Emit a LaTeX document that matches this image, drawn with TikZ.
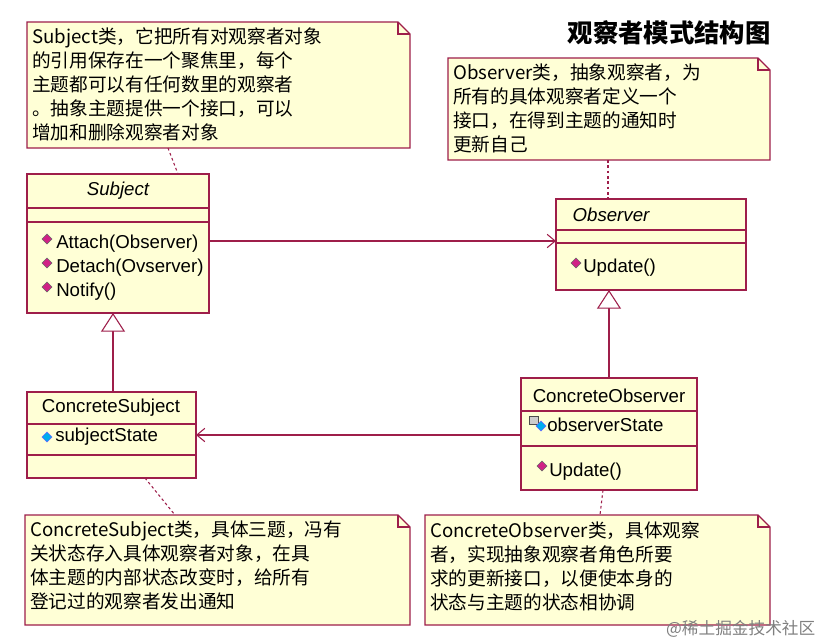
\documentclass[tikz,border=0pt]{standalone}
\usepackage{fontspec}
\setmainfont{Liberation Sans}
\newfontfamily\cjk{Noto Sans CJK SC}
\usetikzlibrary{arrows.meta}
\definecolor{bd}{HTML}{9E1E4A}
\definecolor{fl}{HTML}{FFFFD6}
\begin{document}
\begin{tikzpicture}[x=0.75pt,y=-0.75pt,
  box/.style={draw=bd,fill=fl,line width=0.8pt},
  ln/.style={draw=bd,line width=0.8pt},
  dot/.style={draw=bd,line width=0.8pt,dash pattern=on 2pt off 2pt},
  lab/.style={font=\fontsize{14}{17}\selectfont},
  ilab/.style={font=\itshape\fontsize{14}{17}\selectfont},
  txt/.style={anchor=west,inner sep=0pt,lab},
  ntxt/.style={anchor=north west,inner sep=0pt,align=left,font=\cjk\fontsize{14}{18}\selectfont},
  opm/.style={fill=magenta!85!black,draw=black!60,line width=0.3pt},
  attr/.style={fill=cyan,draw=blue!60,line width=0.3pt}]
\useasboundingbox (0,0) rectangle (833,643);
\fill[white] (0,0) rectangle (833,643);
\newcommand\notebox[4]{\draw[box] (#1,#2) -- (#3-12,#2) -- (#3,#2+12) -- (#3,#4) -- (#1,#4) -- cycle;
  \draw[ln] (#3-12,#2) -- (#3-12,#2+12) -- (#3,#2+12);}
\newcommand\dia[3]{\filldraw[#3] (#1,#2) ++(0,-5) -- ++(5,5) -- ++(-5,5) -- ++(-5,-5) -- cycle;}
% notes
\notebox{27}{22}{410}{148}
\node[ntxt] (n1) at (32,27) {Subject类，它把所有对观察者对象\\的引用保存在一个聚焦里，每个\\主题都可以有任何数里的观察者\\。抽象主题提供一个接口，可以\\增加和删除观察者对象};
\node[font=\cjk\bfseries\fontsize{19}{22}\selectfont] (title) at (669,33) {观察者模式结构图};
\notebox{448}{58}{770}{160}
\node[ntxt] (n2) at (453,63) {Observer类，抽象观察者，为\\所有的具体观察者定义一个\\接口，在得到主题的通知时\\更新自己};
\notebox{25}{515}{410}{625}
\node[ntxt] (n3) at (30,521) {ConcreteSubject类，具体三题，冯有\\关状态存入具体观察者对象，在具\\体主题的内部状态改变时，给所有\\登记过的观察者发出通知};
\notebox{425}{515}{770}{625}
\node[ntxt] (n4) at (430,521) {ConcreteObserver类，具体观察\\者，实现抽象观察者角色所要\\求的更新接口，以便使本身的\\状态与主题的状态相协调};
% Subject
\draw[box] (27,174) rectangle (209,313);
\draw[ln] (27,208) -- (209,208) (27,222) -- (209,222);
\node[ilab] (subj) at (118,191) {Subject};
\dia{47}{239}{opm}\node[txt] (a1) at (56,244) {Attach(Observer)};
\dia{47}{263}{opm}\node[txt] (a2) at (56,268) {Detach(Ovserver)};
\dia{47}{287}{opm}\node[txt] (a3) at (56,292) {Notify()};
% Observer
\draw[box] (556,199) rectangle (746,290);
\draw[ln] (556,230) -- (746,230) (556,243) -- (746,243);
\node[ilab] (obs) at (611,215) {Observer};
\dia{576}{263}{opm}\node[txt] (u1) at (583,268) {Update()};
% ConcreteSubject
\draw[box] (27,392) rectangle (196,478);
\draw[ln] (27,424) -- (196,424) (27,455) -- (196,455);
\node[lab] (cs) at (111,408) {ConcreteSubject};
\dia{47}{437}{attr}\node[txt] (s1) at (55,437) {subjectState};
% ConcreteObserver
\draw[box] (521,378) rectangle (697,490);
\draw[ln] (521,411) -- (697,411) (521,446) -- (697,446);
\node[lab] (co) at (609,396) {ConcreteObserver};
\draw[fill=gray!40,draw=black!70,line width=0.4pt] (529,416) rectangle (538,424);
\dia{541}{426}{attr}\node[txt] (o1) at (547,425) {observerState};
\dia{542}{466}{opm}\node[txt] (u2) at (549,472) {Update()};
% connectors
\coordinate (p1) at (209,241); \coordinate (p2) at (556,241);
\draw[ln,-{Straight Barb[length=6pt,width=10pt]}] (p1) -- (p2);
\coordinate (q1) at (521,435); \coordinate (q2) at (196,435);
\draw[ln,-{Straight Barb[length=6pt,width=10pt]}] (q1) -- (q2);
\coordinate (r1) at (113,392); \coordinate (r2) at (113,313);
\draw[ln,-{Triangle[open,length=14pt,width=18pt,fill=white]}] (r1) -- (r2);
\coordinate (t1) at (609,378); \coordinate (t2) at (609,290);
\draw[ln,-{Triangle[open,length=14pt,width=18pt,fill=white]}] (t1) -- (t2);
\draw[dot] (168,148) -- (178,174);
\draw[dot] (608,160) -- (608,199);
\draw[dot] (145,478) -- (175,515);
\draw[dot] (603,490) -- (600,515);
\node[anchor=east,text=gray,font=\cjk\fontsize{12.5}{14}\selectfont] (wm) at (820,629) {@稀土掘金技术社区};
\end{tikzpicture}
\end{document}
